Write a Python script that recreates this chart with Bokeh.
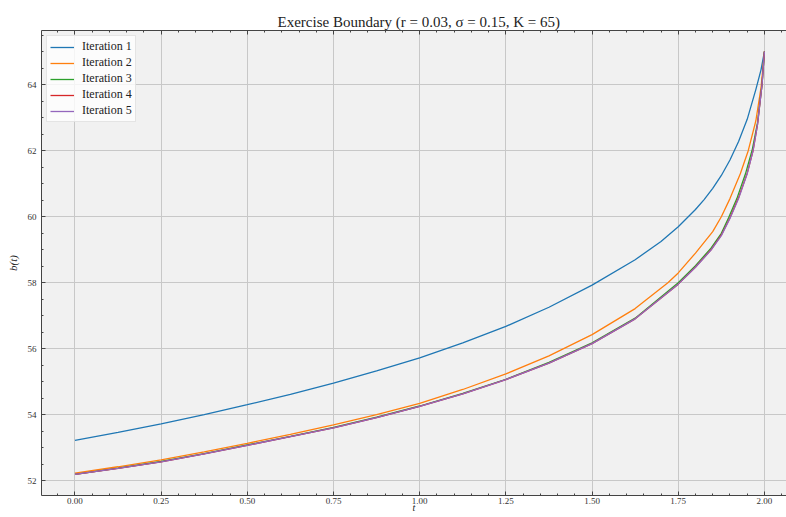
from bokeh.plotting import figure
from bokeh.models import Range1d, Legend, LegendItem, LinearAxis, FixedTicker
from bokeh.embed import file_html
from bokeh.resources import INLINE

# ---- data ----
t1 = [0.0, 0.125, 0.25, 0.375, 0.5, 0.625, 0.75, 0.875, 1.0, 1.125, 1.25, 1.375, 1.5, 1.625, 1.7, 1.75, 1.8, 1.825, 1.85, 1.875, 1.9, 1.925, 1.95, 1.975, 1.99, 2.0]
it1 = [53.23, 53.47, 53.73, 54.01, 54.31, 54.62, 54.96, 55.33, 55.73, 56.18, 56.68, 57.26, 57.93, 58.70, 59.25, 59.70, 60.22, 60.52, 60.86, 61.25, 61.72, 62.28, 62.95, 63.85, 64.45, 65.0]

t2 = [0.0, 0.125, 0.25, 0.375, 0.5, 0.625, 0.75, 0.875, 1.0, 1.125, 1.25, 1.375, 1.5, 1.625, 1.72, 1.75, 1.8, 1.85, 1.875, 1.9, 1.93, 1.953, 1.975, 1.99, 2.0]
it2 = [52.24, 52.43, 52.64, 52.88, 53.14, 53.41, 53.70, 54.01, 54.35, 54.77, 55.24, 55.79, 56.43, 57.22, 58.0, 58.3, 58.9, 59.55, 60.0, 60.55, 61.3, 62.0, 62.9, 63.9, 65.0]

t3 = [0.0, 0.125, 0.25, 0.375, 0.5, 0.625, 0.75, 0.875, 1.0, 1.125, 1.25, 1.375, 1.5, 1.625, 1.75, 1.8, 1.845, 1.875, 1.896, 1.92, 1.945, 1.965, 1.98, 1.993, 2.0]
it3 = [52.20, 52.39, 52.59, 52.83, 53.09, 53.35, 53.62, 53.93, 54.27, 54.65, 55.08, 55.59, 56.18, 56.93, 58.0, 58.52, 59.05, 59.5, 59.97, 60.55, 61.3, 62.05, 62.85, 64.0, 65.0]

t4 = [0.0, 0.125, 0.25, 0.375, 0.5, 0.625, 0.75, 0.875, 1.0, 1.125, 1.25, 1.375, 1.5, 1.625, 1.75, 1.8, 1.845, 1.875, 1.9, 1.925, 1.95, 1.967, 1.98, 1.993, 2.0]
it4 = [52.20, 52.38, 52.58, 52.82, 53.08, 53.34, 53.61, 53.92, 54.26, 54.64, 55.07, 55.57, 56.16, 56.91, 57.96, 58.48, 59.0, 59.45, 59.97, 60.58, 61.32, 62.0, 62.8, 64.0, 65.0]

t5 = [0.0, 0.125, 0.25, 0.375, 0.5, 0.625, 0.75, 0.875, 1.0, 1.125, 1.25, 1.375, 1.5, 1.625, 1.75, 1.8, 1.845, 1.875, 1.9, 1.925, 1.95, 1.967, 1.98, 1.993, 2.0]
it5 = [52.20, 52.38, 52.58, 52.82, 53.08, 53.34, 53.61, 53.92, 54.26, 54.64, 55.07, 55.57, 56.16, 56.91, 57.96, 58.47, 58.99, 59.43, 59.95, 60.55, 61.3, 62.0, 62.8, 64.0, 65.0]

labels = ["Iteration 1", "Iteration 2", "Iteration 3", "Iteration 4", "Iteration 5"]
colors = ["#1f77b4", "#ff7f0e", "#2ca02c", "#d62728", "#9467bd"]
xticks = [0.0, 0.25, 0.5, 0.75, 1.0, 1.25, 1.5, 1.75, 2.0]
yticks = [52, 54, 56, 58, 60, 62, 64]
title_text = "Exercise Boundary (r = 0.03, σ = 0.15, K = 65)"
x_label = "t"
y_label = "b(t)"

FONT = "Liberation Serif"
Y0, Y1 = 51.56, 65.64

p = figure(width=786, height=517, output_backend="svg", toolbar_location=None,
           x_range=Range1d(-0.097, 2.064), y_range=Range1d(Y0, Y1),
           min_border_left=41, min_border_right=0, min_border_top=30, min_border_bottom=22)

p.title.text = title_text
p.title.align = "left"
p.title.offset = 236
p.title.standoff = 2
p.title.text_font = FONT
p.title.text_font_size = "15px"
p.title.text_font_style = "normal"
p.title.text_color = "#222222"

p.background_fill_color = "#f1f1f1"
p.border_fill_color = "white"
p.outline_line_color = None

series = [(t1, it1), (t2, it2), (t3, it3), (t4, it4), (t5, it5)]
renderers = []
for (tx, vy), c in zip(series, colors):
    r = p.line(tx, vy, line_color=c, line_width=1.3)
    renderers.append(r)

for ax in (p.xaxis[0], p.yaxis[0]):
    ax.major_tick_in = 4
    ax.major_tick_out = 0
    ax.minor_tick_in = 2
    ax.minor_tick_out = 0
    ax.axis_line_color = "#444444"
    ax.major_tick_line_color = "#444444"
    ax.minor_tick_line_color = "#444444"
    ax.major_label_text_font = FONT
    ax.major_label_text_font_size = "9px"
    ax.major_label_text_color = "#333333"
    ax.axis_label_text_font = FONT
    ax.axis_label_text_font_style = "italic"
    ax.axis_label_text_font_size = "11px"
    ax.axis_label_text_color = "#222222"
    ax.major_label_standoff = 5

p.xaxis[0].ticker = FixedTicker(ticks=xticks, minor_ticks=[round(-0.05 + 0.05 * i, 2) for i in range(0, 43)])
p.yaxis[0].ticker = FixedTicker(ticks=yticks, minor_ticks=[51.5 + 0.5 * i for i in range(0, 30)])
p.xaxis[0].major_label_overrides = {v: f"{v:.2f}" for v in xticks}
p.xaxis[0].major_label_standoff = 2
p.xaxis[0].axis_label = x_label
p.xaxis[0].axis_label_text_font_size = "10px"
p.xaxis[0].axis_label_standoff = -5
p.yaxis[0].axis_label = y_label
p.yaxis[0].axis_label_standoff = 6

top = LinearAxis(ticker=p.xaxis[0].ticker, major_label_text_font_size="1px",
                 major_label_text_color=None,
                 major_tick_in=4, major_tick_out=0, minor_tick_in=2, minor_tick_out=0,
                 axis_line_color="#444444", major_tick_line_color="#444444",
                 minor_tick_line_color="#444444", major_label_standoff=0)
p.add_layout(top, "above")

p.xgrid.ticker = FixedTicker(ticks=xticks)
p.ygrid.ticker = FixedTicker(ticks=yticks)
p.grid.grid_line_color = "#c8c8c8"
p.grid.grid_line_width = 1

legend = Legend(items=[LegendItem(label=l, renderers=[r]) for l, r in zip(labels, renderers)],
                location="top_left")
legend.label_text_font = FONT
legend.label_text_font_size = "12px"
legend.label_text_color = "#222222"
legend.glyph_width = 24
legend.glyph_height = 14
legend.label_height = 14
legend.label_standoff = 8
legend.spacing = 1
legend.padding = 3
legend.margin = 5
legend.border_line_color = "#cccccc"
legend.background_fill_color = "white"
legend.background_fill_alpha = 0.8
p.add_layout(legend)

open("out.html", "w").write(file_html(p, INLINE))
